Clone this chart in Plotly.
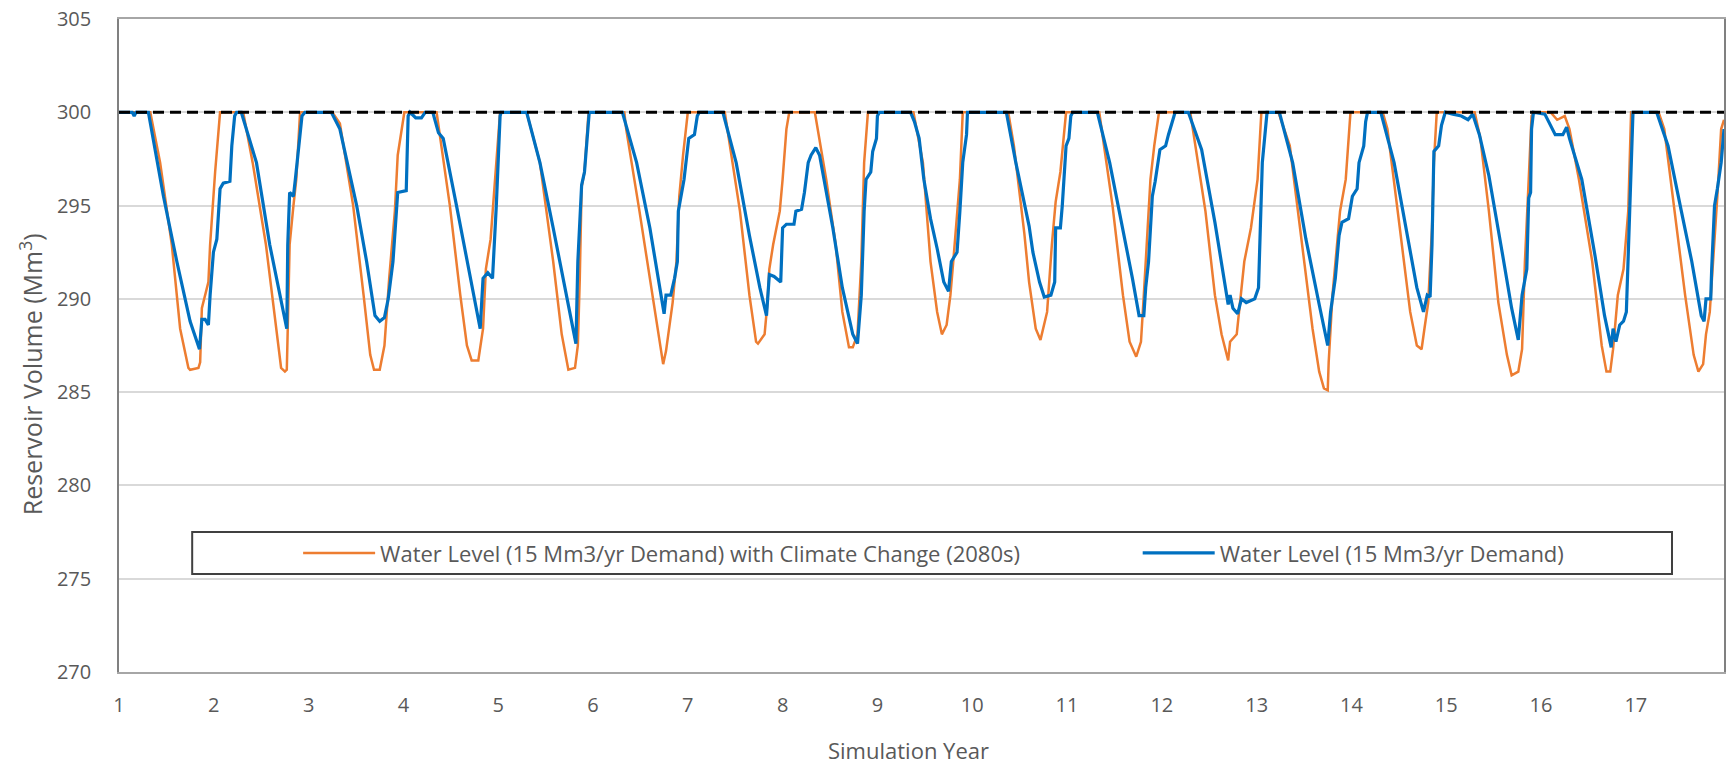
import plotly.graph_objects as go

# ---------------- data ----------------
CAPACITY = 300
X_RANGE = [1, 17.93]
Y_RANGE = [270, 305]
Y_TICKS = [270, 275, 280, 285, 290, 295, 300, 305]
X_TICKS = list(range(1, 18))

X_TITLE = "Simulation Year"
Y_TITLE = "Reservoir Volume (Mm<sup>3</sup>)"
NAME_CC = "Water Level (15 Mm3/yr Demand) with Climate Change (2080s)"
NAME_BASE = "Water Level (15 Mm3/yr Demand)"

cc_year = [
    1.00, 1.33, 1.434, 1.557, 1.645, 1.732, 1.75, 1.838, 1.856, 1.874, 1.943, 1.961, 2.014, 2.032, 2.066,
    2.31, 2.41, 2.55, 2.66, 2.71, 2.75, 2.77, 2.78, 2.80, 2.84, 2.87, 2.91,
    3.25, 3.33, 3.47, 3.58, 3.65, 3.69, 3.75, 3.80, 3.85, 3.91, 3.94, 4.01,
    4.35, 4.49, 4.60, 4.67, 4.72, 4.79, 4.84, 4.87, 4.92, 4.98, 5.02,
    5.30, 5.44, 5.58, 5.67, 5.74, 5.81, 5.84, 5.86, 5.88, 5.91, 5.95, 5.96,
    6.33, 6.35, 6.49, 6.60, 6.69, 6.74, 6.77, 6.81, 6.84, 6.88, 6.91, 6.95, 7.00,
    7.39, 7.55, 7.65, 7.72, 7.74, 7.81, 7.84, 7.86, 7.90, 7.97, 8.00, 8.04, 8.07,
    8.34, 8.46, 8.56, 8.63, 8.70, 8.74, 8.79, 8.83, 8.86, 8.90,
    9.38, 9.48, 9.56, 9.63, 9.68, 9.73, 9.77, 9.80, 9.87, 9.90,
    10.38, 10.44, 10.55, 10.60, 10.67, 10.72, 10.79, 10.84, 10.88, 10.93, 10.97, 10.99,
    11.34, 11.48, 11.59, 11.66, 11.73, 11.78, 11.81, 11.85, 11.88, 11.92, 11.97,
    12.30, 12.46, 12.56, 12.63, 12.70, 12.72, 12.79, 12.82, 12.87, 12.94, 13.01, 13.05,
    13.23, 13.35, 13.48, 13.59, 13.66, 13.71, 13.75, 13.76, 13.80, 13.85, 13.88, 13.94, 13.99,
    14.33, 14.38, 14.51, 14.62, 14.69, 14.74, 14.77, 14.81, 14.85, 14.87, 14.90,
    15.30, 15.36, 15.45, 15.55, 15.64, 15.69, 15.76, 15.80, 15.83, 15.87, 15.90, 15.93,
    16.10, 16.17, 16.25, 16.30, 16.40, 16.54, 16.64, 16.69, 16.73, 16.76, 16.81, 16.87, 16.92, 16.95,
    17.24, 17.30, 17.41, 17.52, 17.61, 17.66, 17.71, 17.74, 17.78, 17.83, 17.86, 17.90, 17.93,
]
cc_volume = [
    300, 300, 297.3, 292.9, 288.4, 286.3, 286.2, 286.3, 286.6, 289.5, 290.9, 292.9, 296.8, 297.9, 300,
    300, 297.3, 292.9, 288.4, 286.3, 286.1, 286.2, 288.4, 292.9, 295.0, 296.4, 300,
    300, 299.4, 295.0, 290.2, 287.0, 286.2, 286.2, 287.5, 291.1, 294.7, 297.7, 300,
    300, 295.0, 290.2, 287.5, 286.7, 286.7, 288.4, 291.6, 293.2, 297.3, 300,
    300, 297.3, 292.0, 288.1, 286.2, 286.3, 287.5, 291.0, 296.0, 296.8, 299.8, 300,
    300, 299.1, 294.7, 291.1, 288.1, 286.5, 287.2, 288.8, 289.8, 292.0, 295.5, 297.7, 300,
    300, 294.7, 290.2, 287.7, 287.6, 288.1, 289.8, 291.6, 292.9, 294.7, 296.4, 299.1, 300,
    300, 296.4, 292.9, 289.3, 287.4, 287.4, 288.1, 292.0, 297.3, 300,
    300, 297.3, 292.0, 289.3, 288.1, 288.6, 290.2, 292.0, 296.4, 300,
    300, 298.2, 293.5, 290.9, 288.4, 287.8, 289.3, 292.9, 295.2, 296.8, 299.1, 300,
    300, 295.0, 290.2, 287.7, 286.9, 287.7, 290.2, 293.8, 296.4, 298.2, 300,
    300, 294.7, 290.2, 288.1, 286.7, 287.7, 288.1, 289.7, 292.0, 293.8, 296.4, 300,
    300, 298.2, 292.9, 288.4, 286.1, 285.2, 285.1, 286.6, 290.2, 292.9, 294.7, 296.4, 300,
    300, 299.1, 293.8, 289.3, 287.5, 287.3, 288.4, 289.8, 293.8, 297.3, 300,
    300, 298.6, 294.7, 289.8, 287.0, 285.9, 286.1, 287.3, 292.0, 296.4, 299.8, 300,
    300, 299.6, 299.8, 299.1, 296.4, 292.0, 287.5, 286.1, 286.1, 287.3, 290.2, 291.6, 294.7, 300,
    300, 299.1, 294.7, 290.2, 287.0, 286.1, 286.5, 288.1, 289.3, 292.9, 295.5, 299.1, 299.6,
]

base_year = [
    1.00, 1.14, 1.16, 1.18, 1.31, 1.469, 1.610, 1.750, 1.849, 1.874, 1.908, 1.943, 1.961, 1.996, 2.032, 2.066, 2.10, 2.17, 2.19, 2.22, 2.24,
    2.29, 2.45, 2.59, 2.77, 2.78, 2.80, 2.84, 2.86, 2.93, 2.96,
    3.24, 3.33, 3.507, 3.612, 3.70, 3.75, 3.80, 3.84, 3.89, 3.94, 4.03, 4.05, 4.07, 4.13, 4.19, 4.23,
    4.31, 4.37, 4.42, 4.56, 4.67, 4.81, 4.84, 4.89, 4.94, 4.98, 5.02, 5.03,
    5.30, 5.44, 5.58, 5.72, 5.82, 5.84, 5.88, 5.91, 5.95, 5.96,
    6.31, 6.46, 6.60, 6.70, 6.75, 6.77, 6.82, 6.86, 6.89, 6.90, 6.96, 7.01, 7.07, 7.10, 7.12,
    7.37, 7.51, 7.65, 7.76, 7.83, 7.86, 7.91, 7.98, 8.00, 8.04, 8.12, 8.14, 8.20, 8.23, 8.27, 8.30, 8.35, 8.39,
    8.53, 8.63, 8.74, 8.79, 8.83, 8.86, 8.88, 8.93, 8.95, 8.99, 9.00, 9.02,
    9.35, 9.39, 9.44, 9.49, 9.56, 9.63, 9.70, 9.75, 9.78, 9.84, 9.87, 9.90, 9.94, 9.95,
    10.36, 10.46, 10.60, 10.64, 10.71, 10.76, 10.83, 10.87, 10.88, 10.93, 10.95, 10.99, 11.02, 11.04, 11.06,
    11.32, 11.45, 11.59, 11.69, 11.76, 11.81, 11.83, 11.86, 11.90, 11.93, 11.98, 12.04, 12.07, 12.11, 12.14,
    12.28, 12.42, 12.56, 12.67, 12.70, 12.72, 12.75, 12.80, 12.84, 12.89, 12.98, 13.02, 13.06, 13.11,
    13.24, 13.38, 13.52, 13.66, 13.75, 13.78, 13.83, 13.87, 13.90, 13.97, 14.01, 14.06, 14.08, 14.13, 14.15, 14.17,
    14.31, 14.45, 14.59, 14.69, 14.76, 14.80, 14.83, 14.85, 14.87, 14.92, 14.95, 14.99,
    15.07, 15.16, 15.23, 15.28, 15.35, 15.45, 15.59, 15.69, 15.76, 15.80, 15.85, 15.87, 15.89, 15.90, 15.92,
    16.04, 16.15, 16.23, 16.27, 16.30, 16.43, 16.57, 16.67, 16.74, 16.76, 16.79, 16.83, 16.87, 16.90, 16.92, 16.95, 16.97,
    17.22, 17.34, 17.48, 17.59, 17.69, 17.72, 17.74, 17.79, 17.80, 17.83, 17.86, 17.90, 17.93,
]
base_volume = [
    300, 300, 299.8, 300, 300, 295.5, 292.0, 288.8, 287.3, 288.9, 288.9, 288.6, 290.2, 292.5, 293.2, 295.9, 296.2, 296.3, 298.2, 299.8, 300,
    300, 297.3, 292.9, 288.4, 292.9, 295.7, 295.5, 296.4, 299.8, 300,
    300, 299.1, 295.0, 292.0, 289.1, 288.8, 289.0, 290.0, 292.0, 295.7, 295.8, 299.8, 300, 299.7, 299.7, 300,
    300, 298.9, 298.6, 295.0, 292.0, 288.4, 291.1, 291.4, 291.1, 295.0, 299.8, 300,
    300, 297.3, 293.8, 290.2, 287.6, 292.0, 296.1, 296.8, 299.8, 300,
    300, 297.3, 293.8, 290.7, 289.2, 290.2, 290.2, 291.1, 292.0, 294.7, 296.4, 298.6, 298.8, 299.8, 300,
    300, 297.3, 293.4, 290.6, 289.1, 291.3, 291.2, 290.9, 293.8, 294.0, 294.0, 294.7, 294.8, 295.7, 297.3, 297.7, 298.1, 297.7,
    293.8, 290.6, 288.1, 287.6, 290.2, 294.7, 296.4, 296.8, 297.9, 298.6, 299.8, 300,
    300, 299.5, 298.6, 296.4, 294.3, 292.7, 290.9, 290.4, 292.0, 292.5, 294.7, 297.3, 298.8, 300,
    300, 297.3, 293.9, 292.5, 290.9, 290.1, 290.2, 290.9, 293.8, 293.8, 295.0, 298.2, 298.6, 299.8, 300,
    300, 297.3, 293.8, 291.1, 289.1, 289.1, 290.6, 292.0, 295.5, 296.3, 298.0, 298.2, 298.8, 299.5, 300,
    300, 298.0, 294.1, 290.7, 289.7, 290.2, 289.5, 289.2, 290.0, 289.8, 290.0, 290.6, 297.3, 300,
    300, 297.3, 293.2, 289.7, 287.5, 289.3, 291.1, 293.4, 294.1, 294.3, 295.5, 295.9, 297.3, 298.2, 299.5, 300,
    300, 297.3, 293.4, 290.6, 289.3, 290.2, 290.1, 292.9, 297.9, 298.2, 299.3, 300,
    299.9, 299.8, 299.6, 299.9, 298.8, 296.6, 292.5, 289.5, 287.8, 290.2, 291.6, 295.4, 295.7, 299.1, 300,
    299.9, 298.8, 298.8, 299.2, 298.6, 296.4, 292.3, 289.1, 287.4, 288.4, 287.7, 288.6, 288.8, 289.3, 292.3, 296.4, 300,
    300, 298.2, 294.7, 292.0, 289.1, 288.8, 290.0, 290.0, 291.6, 295.0, 295.9, 297.3, 299.1,
]

# ---------------- figure ----------------
ORANGE = "#ED7D31"
BLUE = "#0070C0"
GREY_TXT = "#595959"
FONT = "Open Sans"

fig = go.Figure()
fig.add_trace(go.Scatter(x=cc_year, y=cc_volume, mode="lines", name=NAME_CC,
                         line=dict(color=ORANGE, width=2.5), legend="legend"))
fig.add_trace(go.Scatter(x=base_year, y=base_volume, mode="lines", name=NAME_BASE,
                         line=dict(color=BLUE, width=3.2), legend="legend2"))

fig.add_hline(y=CAPACITY, line=dict(color="black", width=3, dash="11px,6px"), layer="above")

# legend frame
fig.add_shape(type="rect", xref="paper", yref="paper", x0=0.0456, x1=0.9676, y0=0.150, y1=0.2144,
              line=dict(color="#404040", width=2), fillcolor="white", layer="above")

legend_common = dict(orientation="h", xanchor="left", yanchor="middle", y=0.182,
                     bgcolor="rgba(0,0,0,0)", borderwidth=0, itemwidth=72,
                     font=dict(family=FONT, size=22, color=GREY_TXT))

# axis titles (placed where the reference has them)
fig.add_annotation(text=Y_TITLE, xref="paper", yref="paper", x=-0.0548, y=0.456,
                   xanchor="center", yanchor="middle", textangle=-90, showarrow=False,
                   font=dict(family=FONT, size=25, color=GREY_TXT))
fig.add_annotation(text=X_TITLE, xref="paper", yref="paper", x=0.492, y=-0.1194,
                   xanchor="center", yanchor="middle", showarrow=False,
                   font=dict(family=FONT, size=22, color=GREY_TXT))

fig.update_layout(
    width=1729, height=762,
    margin=dict(l=119, r=5, t=19, b=90, autoexpand=False),
    paper_bgcolor="white", plot_bgcolor="white",
    font=dict(family=FONT, color=GREY_TXT),
    showlegend=True,
    legend=dict(x=0.1116, **legend_common),
    legend2=dict(x=0.6347, **legend_common),
    xaxis=dict(range=X_RANGE, tickvals=X_TICKS, showgrid=False, zeroline=False, automargin=False,
               showline=True, linecolor="#a6a6a6", linewidth=1.5, mirror=True,
               ticks="", ticklabelstandoff=14,
               tickfont=dict(family=FONT, size=20, color=GREY_TXT)),
    yaxis=dict(range=Y_RANGE, tickvals=Y_TICKS, showgrid=True, gridcolor="#d9d9d9", gridwidth=1.5,
               zeroline=False, automargin=False,
               showline=True, linecolor="#808080", linewidth=1.5, mirror=True,
               ticks="", ticklabelstandoff=22,
               tickfont=dict(family=FONT, size=20, color=GREY_TXT)),
)

# remove the browser's default page margin so the figure sits at the window's corner
fig.write_html("out.html", config={"displayModeBar": False},
               post_script="document.body.style.margin='0';document.body.style.overflow='hidden';")
